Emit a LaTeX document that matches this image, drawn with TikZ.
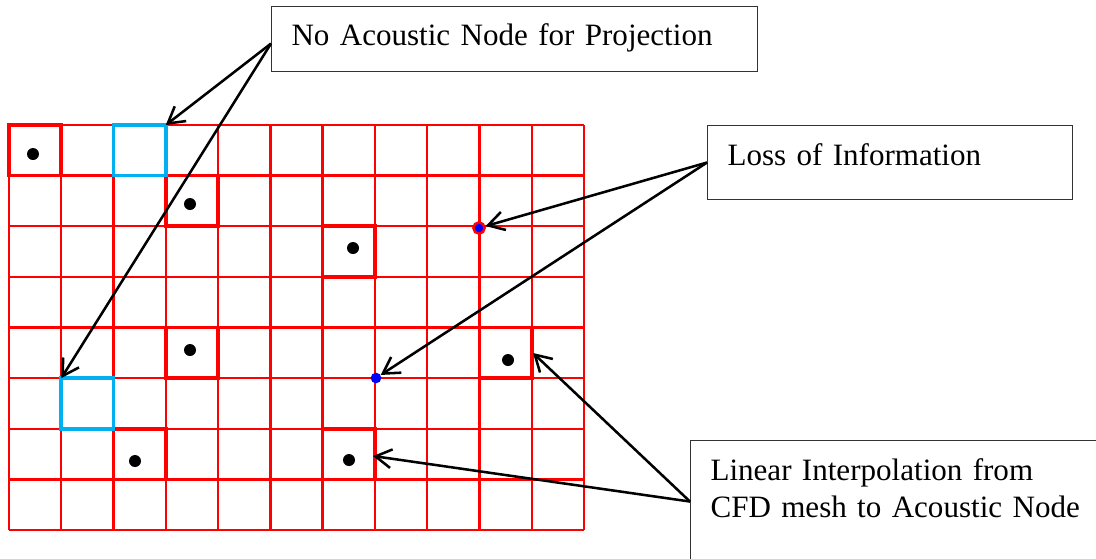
\documentclass[tikz,border=0pt]{standalone}
\usepackage{fontspec}
\setmainfont{Liberation Serif}
\usetikzlibrary{arrows.meta,positioning,calc}
\definecolor{meshcolor}{RGB}{255,0,0}
\definecolor{emptycolor}{RGB}{0,176,240}
\definecolor{pointcolor}{RGB}{0,0,255}

\begin{document}
\begin{tikzpicture}[x=0.75pt,y=-0.75pt,
        meshline/.style={draw=meshcolor, line width=1.8pt},
        nodecell/.style={draw=meshcolor, line width=2.8pt},
        emptycell/.style={draw=emptycolor, line width=2.8pt},
        acnode/.style={circle, fill=black, inner sep=0pt, minimum size=9pt},
        labelbox/.style={draw=black!80, line width=0.8pt, fill=white, anchor=north west, align=left,
            inner xsep=15pt, inner ysep=0pt, font=\fontsize{23.3}{27.75}\selectfont},
        pointer/.style={-{Straight Barb[length=12pt,width=14pt]}, line width=1.9pt}
    ]
        \clip (0,0) rectangle (1096,558);

        % CFD mesh
        \foreach \i in {0,...,11}
            \draw[meshline] (9+\i*52.27,125) -- (9+\i*52.27,530);
        \foreach \j in {0,...,8}
            \draw[meshline] (9,125+\j*50.625) -- (584,125+\j*50.625);

        % cells holding an acoustic node
        \foreach \c/\r in {0/0,3/1,6/2,3/4,9/4,2/6,6/6}
            \draw[nodecell] (9+\c*52.27,125+\r*50.625) rectangle ++(52.27,50.625);
        % cells without acoustic node
        \draw[emptycell] (9+2*52.27,125) rectangle ++(52.27,50.625);
        \draw[emptycell] (9+1*52.27,125+5*50.625) rectangle ++(52.27,50.625);

        % acoustic nodes
        \foreach \px/\py [count=\k] in {33/154,190/204,353/248,190/350,508/360,135/461,349/460}
            \node[acnode] (ac\k) at (\px,\py) {};

        \node[circle, draw=meshcolor, fill=pointcolor, line width=1.8pt, inner sep=0pt, minimum size=8.5pt] (lossdot) at (479,228) {};
        \node[circle, fill=pointcolor, inner sep=0pt, minimum size=8pt] (interpdot) at (376,378) {};

        \coordinate (emptyA) at (9+3*52.27,125);
        \coordinate (emptyB) at (9+52.27,125+5*50.625);
        \coordinate (cellA) at (533,353);
        \coordinate (cellB) at (373,456);

        % labels
        \node[labelbox, text width=334.5pt, text height=29.25pt, text depth=19.5pt] (noproj) at (271,6) {No Acoustic Node for Projection};
        \node[labelbox, text width=243.75pt, text height=30pt, text depth=25.5pt] (loss) at (707,125) {Loss of Information};
        \node[labelbox, text width=300pt, text height=30pt, text depth=61.5pt] (interp) at (690,440) {Linear Interpolation from\\CFD mesh to Acoustic Node};

        \coordinate (npstart) at ([yshift=-3.4pt]noproj.west);
        \draw[pointer] (npstart) -- (emptyA);
        \draw[pointer] (npstart) -- (emptyB);
        \draw[pointer] (loss.west) -- (lossdot);
        \draw[pointer] (loss.west) -- (interpdot);
        \draw[pointer] (interp.west) -- (cellA);
        \draw[pointer] (interp.west) -- (cellB);
    \end{tikzpicture}
\end{document}
